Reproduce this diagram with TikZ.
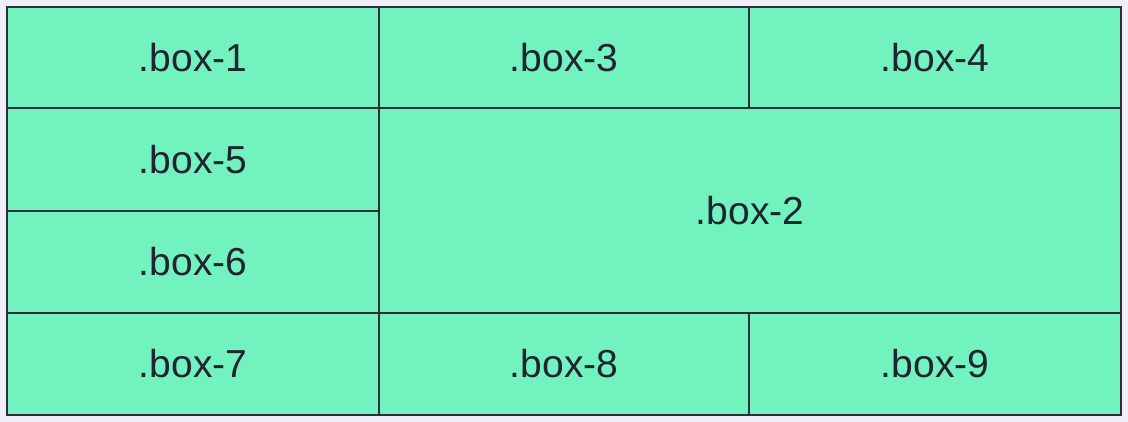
\documentclass[tikz,border=0pt]{standalone}
\usepackage{fontspec}
\setmainfont{Liberation Sans}
\definecolor{bg}{HTML}{F1EEFA}
\definecolor{cell}{HTML}{72F2BE}
\definecolor{edge}{HTML}{2D2D3A}
\definecolor{txt}{HTML}{1F2430}
\begin{document}
\begin{tikzpicture}[x=1pt,y=-1pt,
  cellbox/.style={draw=edge,fill=cell,line width=1.5pt,inner sep=0pt,outer sep=0pt,
    text=txt,font=\fontsize{39}{42}\selectfont},
  ]
\fill[bg] (0,0) rectangle (1128,422);
\useasboundingbox (0,0) rectangle (1128,422);
\node[cellbox,minimum width=372pt,minimum height=101pt] (b1) at (193,57.5) {.box-1};
\node[cellbox,minimum width=370pt,minimum height=101pt] (b3) at (564,57.5) {.box-3};
\node[cellbox,minimum width=372pt,minimum height=101pt] (b4) at (935,57.5) {.box-4};
\node[cellbox,minimum width=372pt,minimum height=103pt] (b5) at (193,159.5) {.box-5};
\node[cellbox,minimum width=372pt,minimum height=102pt] (b6) at (193,262) {.box-6};
\node[cellbox,minimum width=742pt,minimum height=205pt] (b2) at (750,210.5) {.box-2};
\node[cellbox,minimum width=372pt,minimum height=102pt] (b7) at (193,364) {.box-7};
\node[cellbox,minimum width=370pt,minimum height=102pt] (b8) at (564,364) {.box-8};
\node[cellbox,minimum width=372pt,minimum height=102pt] (b9) at (935,364) {.box-9};
\draw[edge,line width=2.5pt] (b1.north west) rectangle (b9.south east);
\end{tikzpicture}
\end{document}
